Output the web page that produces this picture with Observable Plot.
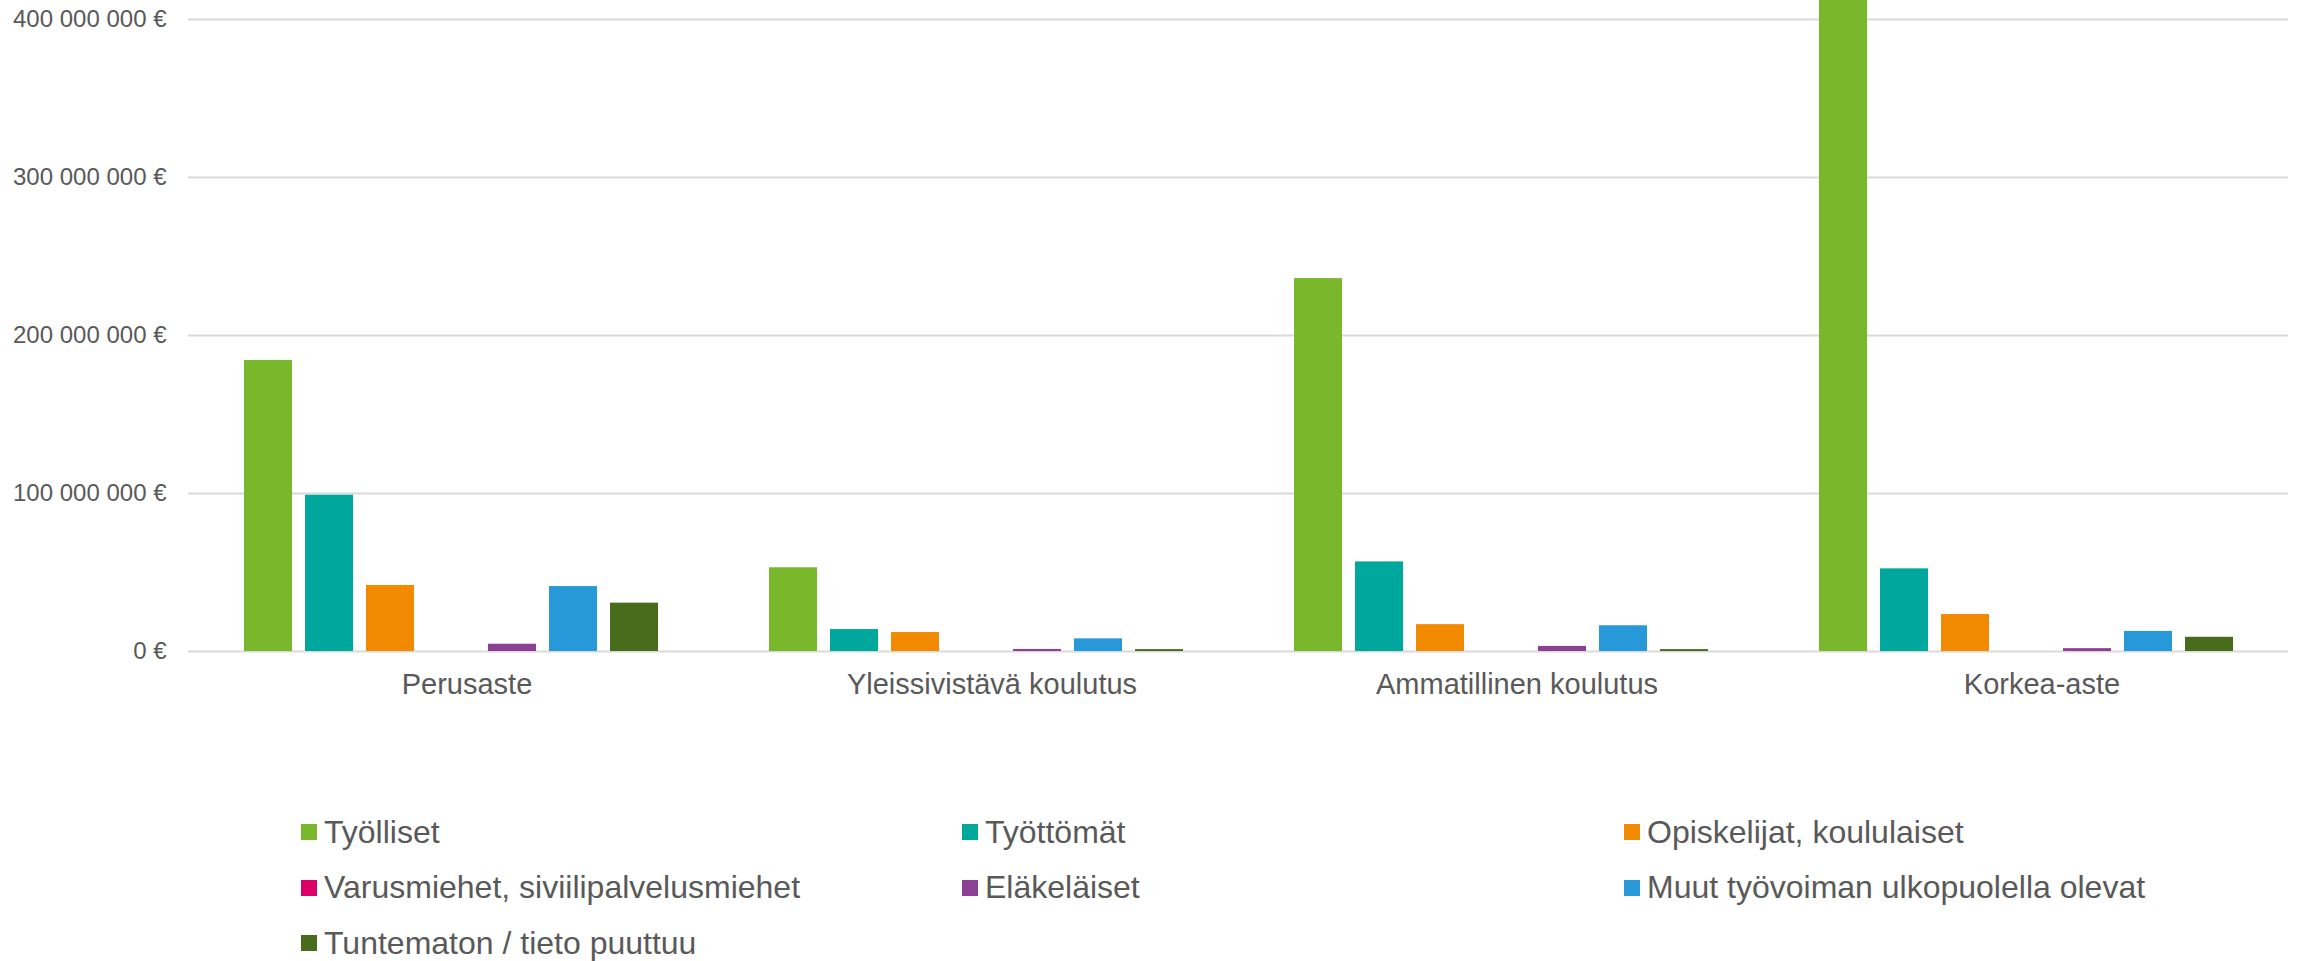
<!DOCTYPE html>
<html>
<head>
<meta charset="utf-8">
<script src="https://cdn.jsdelivr.net/npm/d3@7"></script>
<script src="https://cdn.jsdelivr.net/npm/@observablehq/plot@0.6"></script>
<style>
  html, body { margin: 0; padding: 0; background: #ffffff; }
  body { width: 2298px; height: 961px; overflow: hidden; font-family: "Liberation Sans", Arial, sans-serif; }
  #legend { position: relative; height: 201px; }
  .item { position: absolute; display: flex; align-items: center; height: 40px; font-size: 32px; color: #595959; white-space: nowrap; }
  .sw { width: 16px; height: 16px; margin-right: 7px; flex: none; }
</style>
</head>
<body>
<div id="chart"></div>
<div id="legend"></div>
<script>
const categories = ["Perusaste", "Yleissivistävä koulutus", "Ammatillinen koulutus", "Korkea-aste"];
const series = [
  "Työlliset",
  "Työttömät",
  "Opiskelijat, koululaiset",
  "Varusmiehet, siviilipalvelusmiehet",
  "Eläkeläiset",
  "Muut työvoiman ulkopuolella olevat",
  "Tuntematon / tieto puuttuu"
];
const colors = ["#79B82B", "#00A79D", "#F18A00", "#DB0067", "#8C3F93", "#2899D8", "#476C1B"];

// values per series, in category order (€)
const tyolliset   = [184.2e6, 53.0e6, 236.0e6, 480.0e6];
const tyottomat   = [98.9e6, 13.9e6, 56.7e6, 52.3e6];
const opiskelijat = [41.8e6, 12.0e6, 17.0e6, 23.4e6];
const varusmiehet = [0, 0, 0, 0];
const elakelaiset = [4.6e6, 1.3e6, 3.2e6, 1.8e6];
const muut        = [41.1e6, 8.0e6, 16.3e6, 12.7e6];
const tuntematon  = [30.6e6, 1.2e6, 1.2e6, 9.0e6];

const yTicks = [0, 100e6, 200e6, 300e6, 400e6];

const seriesValues = [tyolliset, tyottomat, opiskelijat, varusmiehet, elakelaiset, muut, tuntematon];
const rows = [];
categories.forEach((c, i) => {
  series.forEach((s, j) => rows.push({category: c, series: s, value: seriesValues[j][i]}));
});

const fmt = d => d3.format(",")(d).replace(/,/g, " ") + " €";

const chart = Plot.plot({
  width: 2298,
  height: 760,
  marginLeft: 188,
  marginRight: 10,
  marginTop: 0,
  marginBottom: 109,
  style: {fontFamily: "'Liberation Sans', Arial, sans-serif", color: "#595959", background: "#ffffff"},
  fx: {domain: categories, padding: 0, label: null, axis: null},
  x: {domain: series, paddingInner: 0.214, paddingOuter: 0.864, axis: null},
  y: {domain: [0, 412e6], axis: null},
  color: {domain: series, range: colors},
  marks: [
    Plot.ruleY(yTicks, {stroke: "#D9D9D9", strokeWidth: 2}),
    Plot.barY(rows, {fx: "category", x: "series", y: "value", fill: "series", clip: true}),
    Plot.axisY({ticks: yTicks, tickSize: 0, tickPadding: 22, tickFormat: fmt, fontSize: 24, label: null}),
    Plot.axisFx({anchor: "bottom", tickSize: 0, tickPadding: 22, fontSize: 29, dx: 16, label: null})
  ]
});
document.getElementById("chart").appendChild(chart);

// legend (HTML, below the SVG)
const legend = document.getElementById("legend");
const colX = [301, 962, 1624];
const rowY = [832, 887.5, 943];
const svgH = 760;
series.forEach((s, i) => {
  const col = i % 3, row = Math.floor(i / 3);
  const div = document.createElement("div");
  div.className = "item";
  div.style.left = colX[col] + "px";
  div.style.top = (rowY[row] - svgH - 20) + "px";
  const sw = document.createElement("span");
  sw.className = "sw";
  sw.style.background = colors[i];
  const tx = document.createElement("span");
  tx.textContent = s;
  div.appendChild(sw);
  div.appendChild(tx);
  legend.appendChild(div);
});
</script>
</body>
</html>
